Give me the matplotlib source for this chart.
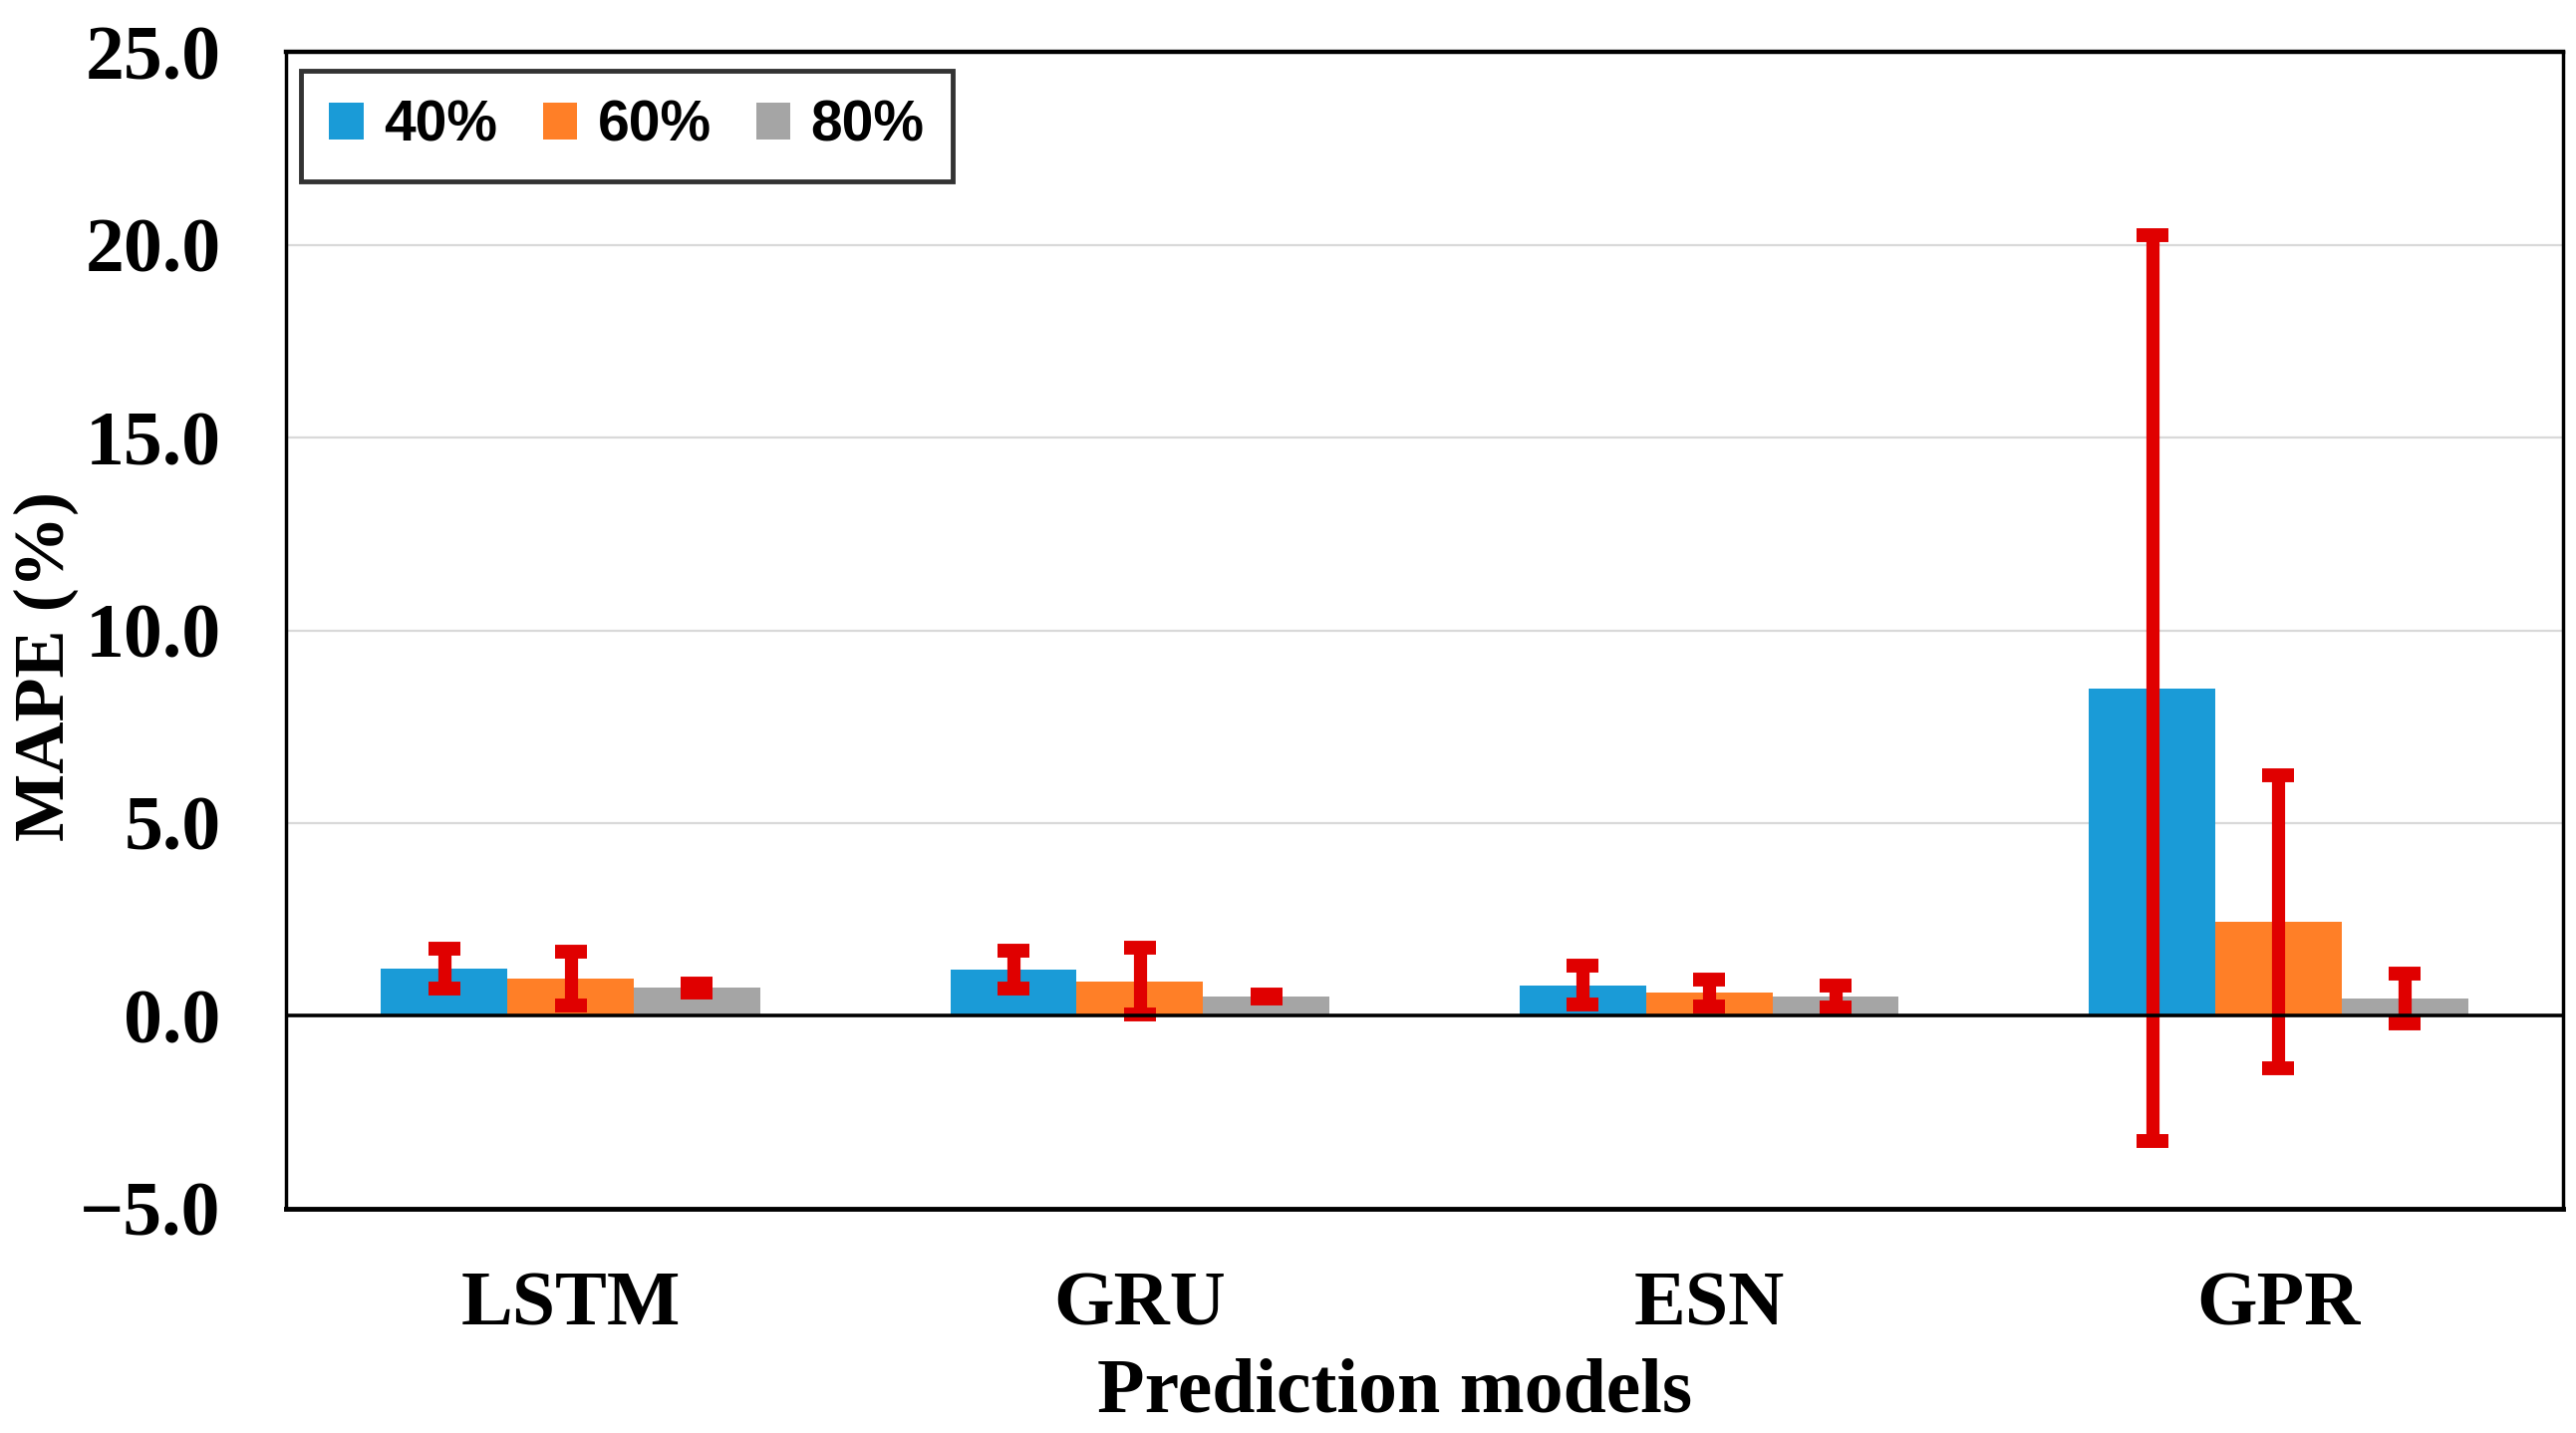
import numpy as np
import matplotlib
matplotlib.use("Agg")
import matplotlib.pyplot as plt

# values
models = ["LSTM", "GRU", "ESN", "GPR"]
series_names = ["40%", "60%", "80%"]
mape_40 = [1.22, 1.20, 0.80, 8.50]
mape_60 = [0.97, 0.90, 0.60, 2.45]
mape_80 = [0.73, 0.50, 0.50, 0.45]
err_40 = [0.52, 0.49, 0.50, 11.75]
err_60 = [0.70, 0.86, 0.35, 3.80]
err_80 = [0.12, 0.05, 0.29, 0.64]
y_ticks = [-5.0, 0.0, 5.0, 10.0, 15.0, 20.0, 25.0]

colors = ["#1A9BD7", "#FF7F27", "#A5A5A5"]
err_color = "#E00000"

serif = ["Liberation Serif", "DejaVu Serif"]

fig = plt.figure(figsize=(25.85, 14.38), dpi=100)
ax = fig.add_axes([0.111, 0.1565, 0.884, 0.8073])

x = np.arange(len(models))
width = 0.222
values = [mape_40, mape_60, mape_80]
errors = [err_40, err_60, err_80]

for i in range(3):
    pos = x + (i - 1) * width
    ax.bar(pos, values[i], width, color=colors[i], label=series_names[i], zorder=2)
    ax.errorbar(pos, values[i], yerr=errors[i], fmt="none", ecolor=err_color,
                elinewidth=9.5, capsize=11.5, capthick=10, zorder=3)

ax.axhline(0, color="black", linewidth=2.6, zorder=4)

ax.set_xlim(-0.5, 3.5)
ax.set_ylim(-5, 25)
ax.set_yticks(y_ticks)
ax.set_yticklabels(["%.1f" % v if v >= 0 else "\u2212%.1f" % abs(v) for v in y_ticks])
ax.set_xticks(x)
ax.set_xticklabels(models)
ax.yaxis.grid(True, color="#D9D9D9", linewidth=1.6, zorder=0)
ax.set_axisbelow(True)

ax.tick_params(axis="both", length=0)
ax.tick_params(axis="y", pad=47)
ax.tick_params(axis="x", pad=45)
for lab in ax.get_xticklabels() + ax.get_yticklabels():
    lab.set_fontfamily(serif)
    lab.set_fontweight("bold")
    lab.set_fontsize(56)

for side in ["top", "bottom", "left", "right"]:
    ax.spines[side].set_linewidth(2.5)
    ax.spines[side].set_color("black")
ax.spines["bottom"].set_linewidth(3.5)
ax.spines["top"].set_linewidth(3.2)

ax.set_xlabel("Prediction models", fontfamily=serif, fontweight="bold",
              fontsize=56, labelpad=8)
ax.xaxis.set_label_coords(0.487, -0.129)
fig.text(0.018, 0.535, "MAPE (%)", rotation=90, ha="center", va="center",
         fontfamily=serif, fontweight="bold", fontsize=52)

leg = ax.legend(loc="upper left", bbox_to_anchor=(0.0066, 0.9836), borderaxespad=0,
                ncol=3, frameon=True, fancybox=False, handlelength=0.6,
                handleheight=0.6, handletextpad=0.36, columnspacing=0.8,
                borderpad=0.5,
                prop={"family": "Liberation Sans", "weight": "bold", "size": 41})
leg.get_frame().set_edgecolor("black")
leg.get_frame().set_linewidth(3.5)

fig.savefig("out.png", dpi=100, facecolor="white")
